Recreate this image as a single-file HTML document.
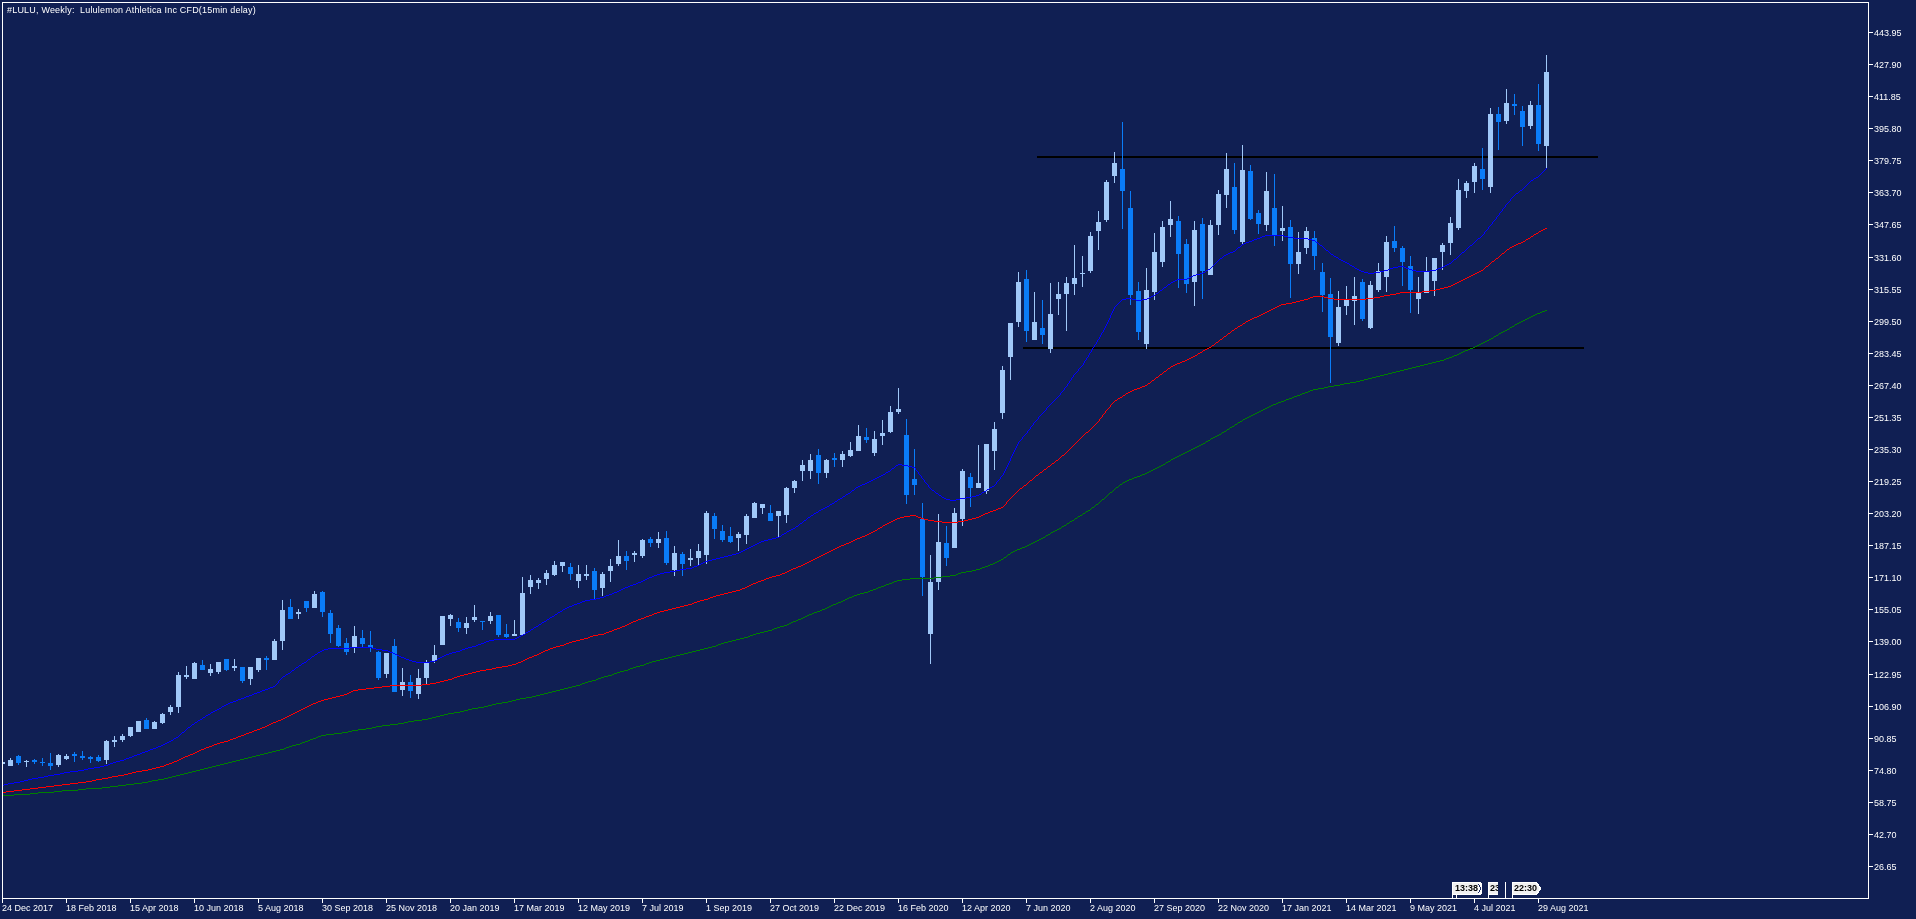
<!DOCTYPE html>
<html><head><meta charset="utf-8"><title>LULU Weekly</title>
<style>html,body{margin:0;padding:0;background:#101f53;width:1916px;height:919px;overflow:hidden}</style>
</head><body>
<svg width="1916" height="919" viewBox="0 0 1916 919" style="position:absolute;left:0;top:0;will-change:transform"><defs><clipPath id="c"><rect x="3" y="3" width="1865" height="895"/></clipPath></defs><g clip-path="url(#c)" shape-rendering="crispEdges"><rect x="1037" y="156" width="561" height="2" fill="#000"/><rect x="1023" y="347" width="561" height="2" fill="#000"/><path fill="#a0c8f8" d="M2 762h1v2h-1zM0 762h5v2h-5zM10 758h1v8h-1zM8 760h5v6h-5zM26 760h1v7h-1zM24 761h5v1h-5zM58 754h1v13h-1zM56 755h5v10h-5zM66 754h1v6h-1zM64 756h5v3h-5zM106 740h1v24h-1zM104 741h5v19h-5zM114 736h1v11h-1zM112 740h5v2h-5zM122 734h1v8h-1zM120 736h5v4h-5zM130 727h1v10h-1zM128 727h5v9h-5zM138 721h1v11h-1zM136 721h5v11h-5zM154 721h1v8h-1zM152 722h5v7h-5zM162 713h1v11h-1zM160 714h5v9h-5zM170 705h1v10h-1zM168 707h5v5h-5zM178 672h1v41h-1zM176 675h5v32h-5zM186 666h1v13h-1zM184 675h5v2h-5zM194 662h1v17h-1zM192 663h5v16h-5zM210 664h1v12h-1zM208 669h5v4h-5zM218 662h1v12h-1zM216 662h5v10h-5zM234 659h1v12h-1zM232 666h5v2h-5zM250 667h1v18h-1zM248 667h5v12h-5zM258 658h1v14h-1zM256 658h5v12h-5zM274 639h1v21h-1zM272 641h5v19h-5zM282 600h1v50h-1zM280 610h5v31h-5zM298 609h1v10h-1zM296 612h5v2h-5zM314 591h1v17h-1zM312 594h5v14h-5zM354 626h1v27h-1zM352 636h5v11h-5zM386 653h1v25h-1zM384 653h5v21h-5zM402 668h1v28h-1zM400 682h5v8h-5zM418 669h1v30h-1zM416 678h5v16h-5zM426 660h1v24h-1zM424 663h5v15h-5zM434 645h1v18h-1zM432 655h5v6h-5zM442 616h1v29h-1zM440 616h5v29h-5zM450 614h1v12h-1zM448 615h5v4h-5zM466 617h1v17h-1zM464 623h5v5h-5zM474 605h1v17h-1zM472 617h5v3h-5zM490 612h1v12h-1zM488 616h5v5h-5zM514 620h1v16h-1zM512 634h5v2h-5zM522 577h1v58h-1zM520 593h5v42h-5zM530 575h1v19h-1zM528 580h5v7h-5zM538 578h1v11h-1zM536 580h5v3h-5zM546 570h1v15h-1zM544 573h5v6h-5zM554 561h1v15h-1zM552 565h5v10h-5zM562 562h1v10h-1zM560 562h5v4h-5zM578 565h1v23h-1zM576 574h5v7h-5zM586 565h1v15h-1zM584 574h5v2h-5zM602 572h1v24h-1zM600 574h5v14h-5zM610 559h1v23h-1zM608 566h5v5h-5zM618 540h1v26h-1zM616 556h5v8h-5zM634 551h1v11h-1zM632 553h5v2h-5zM642 539h1v19h-1zM640 540h5v16h-5zM658 532h1v16h-1zM656 539h5v4h-5zM674 546h1v30h-1zM672 553h5v17h-5zM690 549h1v17h-1zM688 558h5v2h-5zM698 544h1v21h-1zM696 551h5v7h-5zM706 511h1v53h-1zM704 513h5v42h-5zM738 532h1v19h-1zM736 534h5v4h-5zM746 514h1v30h-1zM744 516h5v19h-5zM754 502h1v16h-1zM752 503h5v15h-5zM762 504h1v10h-1zM760 504h5v4h-5zM778 511h1v27h-1zM776 511h5v5h-5zM786 487h1v36h-1zM784 488h5v27h-5zM794 480h1v13h-1zM792 481h5v7h-5zM802 460h1v21h-1zM800 465h5v6h-5zM810 454h1v25h-1zM808 460h5v11h-5zM826 459h1v19h-1zM824 460h5v13h-5zM842 451h1v16h-1zM840 454h5v6h-5zM850 442h1v15h-1zM848 450h5v6h-5zM858 425h1v26h-1zM856 436h5v15h-5zM874 431h1v25h-1zM872 439h5v14h-5zM882 420h1v25h-1zM880 433h5v3h-5zM890 406h1v27h-1zM888 412h5v20h-5zM898 388h1v26h-1zM896 409h5v3h-5zM930 555h1v109h-1zM928 582h5v52h-5zM938 514h1v76h-1zM936 542h5v40h-5zM954 508h1v40h-1zM952 513h5v35h-5zM962 469h1v57h-1zM960 471h5v48h-5zM978 445h1v43h-1zM976 483h5v5h-5zM986 444h1v50h-1zM984 444h5v47h-5zM994 422h1v48h-1zM992 429h5v22h-5zM1002 366h1v53h-1zM1000 370h5v43h-5zM1010 323h1v57h-1zM1008 323h5v34h-5zM1018 272h1v55h-1zM1016 282h5v40h-5zM1034 292h1v48h-1zM1032 322h5v18h-5zM1050 283h1v70h-1zM1048 314h5v35h-5zM1058 282h1v33h-1zM1056 294h5v5h-5zM1066 277h1v54h-1zM1064 283h5v11h-5zM1074 245h1v50h-1zM1072 278h5v6h-5zM1082 256h1v31h-1zM1080 273h5v1h-5zM1090 232h1v41h-1zM1088 236h5v35h-5zM1098 211h1v39h-1zM1096 222h5v9h-5zM1106 180h1v42h-1zM1104 182h5v38h-5zM1114 152h1v31h-1zM1112 163h5v13h-5zM1146 268h1v81h-1zM1144 290h5v54h-5zM1154 233h1v67h-1zM1152 252h5v40h-5zM1162 221h1v46h-1zM1160 227h5v35h-5zM1170 201h1v36h-1zM1168 219h5v6h-5zM1194 221h1v85h-1zM1192 230h5v52h-5zM1210 220h1v55h-1zM1208 225h5v50h-5zM1218 190h1v45h-1zM1216 194h5v31h-5zM1226 153h1v55h-1zM1224 169h5v26h-5zM1242 145h1v99h-1zM1240 170h5v72h-5zM1266 172h1v59h-1zM1264 191h5v34h-5zM1282 206h1v35h-1zM1280 228h5v3h-5zM1298 232h1v42h-1zM1296 252h5v12h-5zM1306 227h1v27h-1zM1304 231h5v17h-5zM1338 291h1v55h-1zM1336 307h5v36h-5zM1346 286h1v29h-1zM1344 300h5v6h-5zM1354 277h1v48h-1zM1352 296h5v5h-5zM1370 281h1v48h-1zM1368 285h5v43h-5zM1378 263h1v29h-1zM1376 271h5v19h-5zM1386 236h1v56h-1zM1384 242h5v35h-5zM1418 277h1v37h-1zM1416 293h5v6h-5zM1426 257h1v36h-1zM1424 271h5v22h-5zM1434 258h1v38h-1zM1432 258h5v23h-5zM1442 243h1v27h-1zM1440 245h5v7h-5zM1450 217h1v38h-1zM1448 223h5v20h-5zM1458 179h1v51h-1zM1456 190h5v38h-5zM1466 181h1v17h-1zM1464 183h5v8h-5zM1474 163h1v30h-1zM1472 166h5v16h-5zM1490 108h1v85h-1zM1488 114h5v73h-5zM1506 89h1v35h-1zM1504 103h5v18h-5zM1530 101h1v28h-1zM1528 105h5v21h-5zM1546 55h1v114h-1zM1544 72h5v74h-5z"/><path fill="#0a7cf8" d="M18 755h1v10h-1zM16 756h5v7h-5zM34 759h1v5h-1zM32 760h5v2h-5zM42 758h1v8h-1zM40 762h5v1h-5zM50 753h1v17h-1zM48 763h5v3h-5zM74 752h1v10h-1zM72 754h5v2h-5zM82 751h1v9h-1zM80 756h5v2h-5zM90 756h1v7h-1zM88 757h5v2h-5zM98 755h1v7h-1zM96 757h5v4h-5zM146 718h1v11h-1zM144 720h5v9h-5zM202 660h1v10h-1zM200 665h5v5h-5zM226 659h1v12h-1zM224 659h5v11h-5zM242 667h1v16h-1zM240 667h5v14h-5zM266 656h1v14h-1zM264 658h5v2h-5zM290 599h1v20h-1zM288 607h5v12h-5zM306 601h1v11h-1zM304 601h5v7h-5zM322 591h1v26h-1zM320 592h5v20h-5zM330 610h1v33h-1zM328 613h5v21h-5zM338 625h1v22h-1zM336 628h5v18h-5zM346 638h1v17h-1zM344 643h5v9h-5zM362 630h1v17h-1zM360 638h5v6h-5zM370 631h1v21h-1zM368 645h5v3h-5zM378 651h1v29h-1zM376 652h5v26h-5zM394 639h1v53h-1zM392 646h5v46h-5zM410 675h1v23h-1zM408 682h5v9h-5zM458 618h1v14h-1zM456 622h5v6h-5zM482 621h1v9h-1zM480 621h5v1h-5zM498 615h1v22h-1zM496 615h5v20h-5zM506 624h1v14h-1zM504 634h5v3h-5zM570 563h1v17h-1zM568 567h5v7h-5zM594 568h1v31h-1zM592 571h5v19h-5zM626 551h1v19h-1zM624 556h5v5h-5zM650 537h1v10h-1zM648 539h5v4h-5zM666 531h1v34h-1zM664 538h5v25h-5zM682 552h1v24h-1zM680 554h5v10h-5zM714 513h1v26h-1zM712 516h5v13h-5zM722 525h1v17h-1zM720 531h5v9h-5zM730 527h1v16h-1zM728 536h5v6h-5zM770 505h1v16h-1zM768 513h5v8h-5zM818 449h1v35h-1zM816 455h5v18h-5zM834 453h1v14h-1zM832 458h5v2h-5zM866 428h1v15h-1zM864 437h5v3h-5zM906 419h1v85h-1zM904 435h5v60h-5zM914 449h1v46h-1zM912 479h5v6h-5zM922 503h1v93h-1zM920 519h5v58h-5zM946 526h1v40h-1zM944 543h5v15h-5zM970 473h1v34h-1zM968 477h5v11h-5zM1026 270h1v72h-1zM1024 279h5v52h-5zM1042 300h1v44h-1zM1040 328h5v7h-5zM1122 122h1v107h-1zM1120 169h5v22h-5zM1130 191h1v114h-1zM1128 208h5v87h-5zM1138 282h1v58h-1zM1136 291h5v41h-5zM1178 216h1v72h-1zM1176 221h5v33h-5zM1186 239h1v54h-1zM1184 244h5v40h-5zM1202 218h1v81h-1zM1200 224h5v47h-5zM1234 163h1v71h-1zM1232 187h5v43h-5zM1250 165h1v55h-1zM1248 171h5v48h-5zM1258 210h1v24h-1zM1256 213h5v11h-5zM1274 174h1v72h-1zM1272 208h5v27h-5zM1290 220h1v78h-1zM1288 227h5v37h-5zM1314 231h1v39h-1zM1312 238h5v18h-5zM1322 263h1v49h-1zM1320 272h5v23h-5zM1330 278h1v105h-1zM1328 294h5v43h-5zM1362 279h1v42h-1zM1360 282h5v37h-5zM1394 226h1v26h-1zM1392 241h5v7h-5zM1402 246h1v40h-1zM1400 248h5v14h-5zM1410 256h1v57h-1zM1408 266h5v24h-5zM1482 148h1v42h-1zM1480 169h5v10h-5zM1498 107h1v43h-1zM1496 114h5v8h-5zM1514 94h1v21h-1zM1512 104h5v2h-5zM1522 106h1v40h-1zM1520 111h5v16h-5zM1538 84h1v67h-1zM1536 105h5v39h-5z"/><path fill="#008000" d="M704 648h4v1h-4zM1203 443h2v1h-2zM990 564h3v1h-3zM390 724h8v1h-8zM1344 383h6v1h-6zM1310 390h3v1h-3zM1384 374h4v1h-4zM668 657h4v1h-4zM1119 485h1v1h-1zM1278 402h3v1h-3zM598 678h3v1h-3zM289 746h3v1h-3zM760 632h4v1h-4zM382 725h8v1h-8zM1408 368h4v1h-4zM1305 392h3v1h-3zM692 651h4v1h-4zM1499 333h2v1h-2zM1008 554h2v1h-2zM1372 377h4v1h-4zM656 660h4v1h-4zM62 790h16v1h-16zM1396 371h4v1h-4zM1463 351h2v1h-2zM448 713h6v1h-6zM272 751h4v1h-4zM54 791h8v1h-8zM1517 323h2v1h-2zM408 721h6v1h-6zM1360 380h4v1h-4zM1265 408h2v1h-2zM1318 388h6v1h-6zM236 760h4v1h-4zM576 685h4v1h-4zM640 665h4v1h-4zM436 716h4v1h-4zM910 578h24v1h-24zM260 754h4v1h-4zM118 785h8v1h-8zM1046 535h2v1h-2zM1120 484h2v1h-2zM961 572h5v1h-5zM854 595h3v1h-3zM1230 427h2v1h-2zM224 763h4v1h-4zM110 786h8v1h-8zM1501 332h2v1h-2zM564 688h4v1h-4zM30 793h8v1h-8zM318 736h3v1h-3zM1247 417h2v1h-2zM1140 475h2v1h-2zM248 757h4v1h-4zM460 711h4v1h-4zM526 697h6v1h-6zM14 794h16v1h-16zM1134 477h3v1h-3zM724 642h4v1h-4zM942 576h8v1h-8zM1297 395h3v1h-3zM1267 407h2v1h-2zM617 672h3v1h-3zM334 733h8v1h-8zM976 569h4v1h-4zM512 700h4v1h-4zM552 691h4v1h-4zM1537 313h3v1h-3zM472 708h6v1h-6zM440 715h4v1h-4zM126 784h8v1h-8zM1155 468h2v1h-2zM1454 355h3v1h-3zM740 638h4v1h-4zM86 788h16v1h-16zM1173 458h2v1h-2zM540 694h4v1h-4zM1449 357h3v1h-3zM502 702h6v1h-6zM1074 519h1v1h-1zM958 573h3v1h-3zM630 668h3v1h-3zM152 780h6v1h-6zM696 650h4v1h-4zM886 584h3v1h-3zM1197 446h2v1h-2zM822 609h3v1h-3zM1070 521h2v1h-2zM188 772h4v1h-4zM728 641h4v1h-4zM1015 550h2v1h-2zM950 575h6v1h-6zM1470 348h3v1h-3zM1193 448h2v1h-2zM142 782h6v1h-6zM212 766h4v1h-4zM488 705h4v1h-4zM454 712h6v1h-6zM342 732h6v1h-6zM843 600h2v1h-2zM620 671h4v1h-4zM310 739h3v1h-3zM1035 541h2v1h-2zM1215 436h2v1h-2zM176 775h4v1h-4zM1240 421h2v1h-2zM812 613h2v1h-2zM305 741h3v1h-3zM1127 480h2v1h-2zM1211 438h2v1h-2zM372 727h4v1h-4zM200 769h4v1h-4zM1157 467h2v1h-2zM712 646h4v1h-4zM1289 398h3v1h-3zM1105 497h1v1h-1zM1053 531h2v1h-2zM999 560h2v1h-2zM164 778h4v1h-4zM608 675h4v1h-4zM1507 329h2v1h-2zM1420 365h4v1h-4zM1255 413h2v1h-2zM358 729h8v1h-8zM1446 358h3v1h-3zM1440 360h4v1h-4zM1273 404h3v1h-3zM876 588h2v1h-2zM284 748h2v1h-2zM784 625h3v1h-3zM814 612h3v1h-3zM1404 369h4v1h-4zM1364 379h4v1h-4zM1238 422h2v1h-2zM680 654h4v1h-4zM1328 386h6v1h-6zM649 662h3v1h-3zM1491 338h2v1h-2zM1428 363h4v1h-4zM1461 352h2v1h-2zM1185 452h2v1h-2zM1102 499h2v1h-2zM302 742h3v1h-3zM2 795h12v1h-12zM1080 515h2v1h-2zM833 604h3v1h-3zM1392 372h4v1h-4zM772 629h2v1h-2zM1181 454h2v1h-2zM296 744h4v1h-4zM1416 366h4v1h-4zM700 649h4v1h-4zM1149 471h2v1h-2zM1380 375h4v1h-4zM398 723h6v1h-6zM664 658h4v1h-4zM1276 403h2v1h-2zM286 747h3v1h-3zM1145 473h2v1h-2zM1340 384h4v1h-4zM1308 391h2v1h-2zM1064 525h2v1h-2zM1110 492h2v1h-2zM756 633h4v1h-4zM1368 378h4v1h-4zM588 681h4v1h-4zM1334 385h6v1h-6zM652 661h4v1h-4zM1006 556h1v1h-1zM582 683h3v1h-3zM444 714h4v1h-4zM1029 544h2v1h-2zM934 577h8v1h-8zM1483 342h2v1h-2zM801 618h2v1h-2zM1025 546h2v1h-2zM852 596h2v1h-2zM572 686h4v1h-4zM1043 537h2v1h-2zM732 640h4v1h-4zM1118 486h1v1h-1zM422 719h6v1h-6zM560 689h4v1h-4zM721 643h3v1h-3zM1137 476h3v1h-3zM414 720h8v1h-8zM1086 511h2v1h-2zM1263 409h2v1h-2zM548 692h4v1h-4zM966 571h6v1h-6zM326 734h8v1h-8zM508 701h4v1h-4zM736 639h4v1h-4zM78 789h8v1h-8zM536 695h4v1h-4zM38 792h16v1h-16zM1229 428h1v1h-1zM1175 457h2v1h-2zM520 698h6v1h-6zM838 602h3v1h-3zM134 783h8v1h-8zM1031 543h2v1h-2zM809 614h3v1h-3zM1123 482h2v1h-2zM366 728h6v1h-6zM1509 328h1v1h-1zM1527 318h2v1h-2zM688 652h4v1h-4zM873 589h3v1h-3zM1033 542h2v1h-2zM1104 498h1v1h-1zM676 655h4v1h-4zM831 605h2v1h-2zM768 630h4v1h-4zM1077 517h1v1h-1zM1257 412h2v1h-2zM1201 444h2v1h-2zM988 565h2v1h-2zM1219 434h2v1h-2zM1165 463h1v1h-1zM1061 527h1v1h-1zM1519 322h2v1h-2zM1515 324h2v1h-2zM1183 453h2v1h-2zM1356 381h4v1h-4zM1078 516h2v1h-2zM803 617h2v1h-2zM892 582h2v1h-2zM264 753h4v1h-4zM321 735h5v1h-5zM1045 536h1v1h-1zM316 737h2v1h-2zM1115 488h1v1h-1zM252 756h4v1h-4zM624 670h4v1h-4zM817 611h3v1h-3zM1245 418h2v1h-2zM1294 396h3v1h-3zM902 579h8v1h-8zM240 759h4v1h-4zM748 636h2v1h-2zM972 570h4v1h-4zM1153 469h2v1h-2zM1452 356h2v1h-2zM228 762h4v1h-4zM196 770h4v1h-4zM496 703h6v1h-6zM1116 487h2v1h-2zM1017 549h3v1h-3zM464 710h4v1h-4zM628 669h2v1h-2zM1226 430h1v1h-1zM1171 459h2v1h-2zM820 610h2v1h-2zM1013 551h2v1h-2zM1195 447h2v1h-2zM308 740h2v1h-2zM1191 449h2v1h-2zM841 601h2v1h-2zM1055 530h2v1h-2zM1051 532h2v1h-2zM1125 481h2v1h-2zM997 561h2v1h-2zM604 676h4v1h-4zM1424 364h4v1h-4zM1286 399h3v1h-3zM192 771h4v1h-4zM1313 389h5v1h-5zM352 730h6v1h-6zM1281 401h3v1h-3zM292 745h4v1h-4zM1412 367h4v1h-4zM1436 361h4v1h-4zM180 774h4v1h-4zM982 567h3v1h-3zM684 653h4v1h-4zM1489 339h2v1h-2zM780 626h4v1h-4zM1235 424h2v1h-2zM1542 311h3v1h-3zM672 656h4v1h-4zM1101 500h1v1h-1zM857 594h3v1h-3zM468 709h4v1h-4zM1147 472h2v1h-2zM256 755h4v1h-4zM1142 474h3v1h-3zM1166 462h2v1h-2zM1112 491h1v1h-1zM244 758h4v1h-4zM1545 310h2v1h-2zM1062 526h2v1h-2zM1132 478h2v1h-2zM585 682h3v1h-3zM1004 557h2v1h-2zM232 761h4v1h-4zM636 666h4v1h-4zM1350 382h6v1h-6zM1535 314h2v1h-2zM1481 343h2v1h-2zM798 619h3v1h-3zM568 687h4v1h-4zM1477 345h2v1h-2zM1199 445h2v1h-2zM985 566h3v1h-3zM849 597h3v1h-3zM184 773h4v1h-4zM532 696h4v1h-4zM1041 538h2v1h-2zM789 623h2v1h-2zM484 706h4v1h-4zM556 690h4v1h-4zM313 738h3v1h-3zM1088 510h2v1h-2zM1496 335h2v1h-2zM208 767h4v1h-4zM894 581h3v1h-3zM708 647h4v1h-4zM432 717h4v1h-4zM884 585h2v1h-2zM791 622h2v1h-2zM172 776h4v1h-4zM376 726h6v1h-6zM1210 439h1v1h-1zM774 628h3v1h-3zM1510 327h2v1h-2zM158 779h6v1h-6zM1122 483h1v1h-1zM993 563h2v1h-2zM1253 414h2v1h-2zM601 677h3v1h-3zM764 631h4v1h-4zM1094 506h1v1h-1zM660 659h4v1h-4zM148 781h4v1h-4zM1525 319h2v1h-2zM1400 370h4v1h-4zM102 787h8v1h-8zM870 590h3v1h-3zM1237 423h1v1h-1zM1388 373h4v1h-4zM580 684h2v1h-2zM829 606h2v1h-2zM1376 376h4v1h-4zM592 680h4v1h-4zM1221 433h1v1h-1zM753 634h3v1h-3zM1217 435h2v1h-2zM1163 464h2v1h-2zM1109 493h1v1h-1zM516 699h4v1h-4zM1457 354h2v1h-2zM1059 528h2v1h-2zM860 593h4v1h-4zM1022 547h3v1h-3zM744 637h4v1h-4zM1531 316h2v1h-2zM1302 393h3v1h-3zM492 704h4v1h-4zM1243 419h2v1h-2zM1085 512h1v1h-1zM544 693h4v1h-4zM1292 397h2v1h-2zM612 674h2v1h-2zM1533 315h2v1h-2zM1479 344h2v1h-2zM1227 429h2v1h-2zM1069 522h1v1h-1zM787 624h2v1h-2zM614 673h3v1h-3zM1206 441h2v1h-2zM1284 400h2v1h-2zM995 562h2v1h-2zM1503 331h2v1h-2zM881 586h3v1h-3zM1095 505h1v1h-1zM1521 321h2v1h-2zM1269 406h2v1h-2zM777 627h3v1h-3zM1324 387h4v1h-4zM1540 312h2v1h-2zM404 722h4v1h-4zM1234 425h1v1h-1zM1251 415h2v1h-2zM633 667h3v1h-3zM1271 405h2v1h-2zM280 749h4v1h-4zM1213 437h2v1h-2zM204 768h4v1h-4zM646 663h3v1h-3zM478 707h6v1h-6zM1159 466h2v1h-2zM268 752h4v1h-4zM1459 353h2v1h-2zM889 583h3v1h-3zM827 607h2v1h-2zM1020 548h2v1h-2zM847 598h2v1h-2zM1039 539h2v1h-2zM348 731h4v1h-4zM1161 465h2v1h-2zM1108 494h1v1h-1zM1432 362h4v1h-4zM716 645h2v1h-2zM1057 529h2v1h-2zM1082 514h1v1h-1zM300 743h2v1h-2zM1259 411h2v1h-2zM220 764h4v1h-4zM1224 431h2v1h-2zM1011 552h2v1h-2zM718 644h3v1h-3zM1465 350h3v1h-3zM1189 450h2v1h-2zM1083 513h2v1h-2zM1208 440h2v1h-2zM1050 533h1v1h-1zM1067 523h2v1h-2zM1092 507h2v1h-2zM1468 349h2v1h-2zM1487 340h2v1h-2zM750 635h3v1h-3zM1505 330h2v1h-2zM428 718h4v1h-4zM1107 495h1v1h-1zM1232 426h2v1h-2zM1179 455h2v1h-2zM1098 503h1v1h-1zM1529 317h2v1h-2zM1498 334h1v1h-1zM1494 336h2v1h-2zM168 777h4v1h-4zM1512 326h2v1h-2zM878 587h3v1h-3zM1113 490h1v1h-1zM1261 410h2v1h-2zM805 616h2v1h-2zM836 603h2v1h-2zM1205 442h1v1h-1zM1168 461h2v1h-2zM1523 320h2v1h-2zM1187 451h2v1h-2zM868 591h2v1h-2zM807 615h2v1h-2zM1177 456h2v1h-2zM1048 534h2v1h-2zM796 620h2v1h-2zM1249 416h2v1h-2zM1091 508h1v1h-1zM1300 394h2v1h-2zM897 580h5v1h-5zM1075 518h2v1h-2zM1099 502h1v1h-1zM793 621h3v1h-3zM845 599h2v1h-2zM1037 540h2v1h-2zM1242 420h1v1h-1zM1106 496h1v1h-1zM1129 479h3v1h-3zM1001 559h2v1h-2zM1222 432h2v1h-2zM1151 470h2v1h-2zM1170 460h1v1h-1zM1066 524h1v1h-1zM1090 509h1v1h-1zM276 750h4v1h-4zM864 592h4v1h-4zM1485 341h2v1h-2zM644 664h2v1h-2zM980 568h2v1h-2zM825 608h2v1h-2zM1072 520h2v1h-2zM956 574h2v1h-2zM216 765h4v1h-4zM1096 504h2v1h-2zM1473 347h2v1h-2zM1514 325h1v1h-1zM1444 359h2v1h-2zM1475 346h2v1h-2zM1114 489h1v1h-1zM596 679h2v1h-2zM1010 553h1v1h-1zM1027 545h2v1h-2zM1100 501h1v1h-1zM1493 337h1v1h-1zM1003 558h1v1h-1zM1007 555h1v1h-1z"/><path fill="#ff0000" d="M328 698h4v1h-4zM299 710h2v1h-2zM841 545h3v1h-3zM468 673h4v1h-4zM1134 389h3v1h-3zM1164 371h2v1h-2zM910 515h6v1h-6zM981 515h2v1h-2zM206 747h3v1h-3zM1240 325h2v1h-2zM174 761h3v1h-3zM496 667h6v1h-6zM1286 303h6v1h-6zM622 626h3v1h-3zM1182 361h3v1h-3zM1259 315h2v1h-2zM318 701h3v1h-3zM1308 298h2v1h-2zM1328 298h6v1h-6zM1366 298h8v1h-8zM62 784h8v1h-8zM457 676h3v1h-3zM523 660h2v1h-2zM900 517h4v1h-4zM918 517h3v1h-3zM976 517h3v1h-3zM374 687h8v1h-8zM480 670h6v1h-6zM344 694h3v1h-3zM1277 306h2v1h-2zM281 719h2v1h-2zM641 618h3v1h-3zM708 598h2v1h-2zM612 630h2v1h-2zM14 790h8v1h-8zM796 567h2v1h-2zM86 781h6v1h-6zM764 579h2v1h-2zM606 632h3v1h-3zM332 697h4v1h-4zM1536 233h2v1h-2zM512 664h4v1h-4zM1485 267h1v1h-1zM78 782h8v1h-8zM472 672h4v1h-4zM1166 370h1v1h-1zM271 723h2v1h-2zM983 514h2v1h-2zM177 760h2v1h-2zM390 685h32v1h-32zM1313 296h11v1h-11zM1380 296h4v1h-4zM267 725h2v1h-2zM593 635h5v1h-5zM815 558h2v1h-2zM236 737h2v1h-2zM753 583h3v1h-3zM30 788h8v1h-8zM460 675h4v1h-4zM1448 286h3v1h-3zM684 605h4v1h-4zM897 518h3v1h-3zM921 518h3v1h-3zM972 518h4v1h-4zM102 778h6v1h-6zM422 684h8v1h-8zM584 638h4v1h-4zM166 764h3v1h-3zM1065 453h1v1h-1zM1436 289h4v1h-4zM160 766h4v1h-4zM128 773h4v1h-4zM193 753h2v1h-2zM448 679h4v1h-4zM1250 319h2v1h-2zM891 521h2v1h-2zM934 521h8v1h-8zM958 521h6v1h-6zM1538 232h1v1h-1zM1036 475h2v1h-2zM1390 294h6v1h-6zM1015 493h1v1h-1zM1534 234h2v1h-2zM697 601h3v1h-3zM1269 310h2v1h-2zM1384 295h6v1h-6zM572 641h4v1h-4zM112 776h6v1h-6zM436 682h4v1h-4zM269 724h2v1h-2zM629 623h2v1h-2zM534 655h3v1h-3zM1072 446h1v1h-1zM529 657h3v1h-3zM782 573h3v1h-3zM1107 409h1v1h-1zM1044 469h2v1h-2zM351 691h2v1h-2zM1400 292h22v1h-22zM1001 507h2v1h-2zM136 771h6v1h-6zM1231 331h1v1h-1zM289 715h2v1h-2zM1088 431h1v1h-1zM164 765h2v1h-2zM257 729h3v1h-3zM855 539h2v1h-2zM772 576h4v1h-4zM1171 366h2v1h-2zM124 774h4v1h-4zM307 706h2v1h-2zM851 541h2v1h-2zM990 511h3v1h-3zM1079 439h1v1h-1zM214 744h3v1h-3zM46 786h8v1h-8zM185 756h3v1h-3zM366 688h8v1h-8zM1008 500h1v1h-1zM38 787h8v1h-8zM1052 463h2v1h-2zM1191 357h2v1h-2zM785 572h2v1h-2zM1095 424h1v1h-1zM871 532h2v1h-2zM688 604h4v1h-4zM353 690h5v1h-5zM652 614h2v1h-2zM1187 359h2v1h-2zM70 783h8v1h-8zM889 522h2v1h-2zM942 522h16v1h-16zM1024 485h2v1h-2zM1156 377h2v1h-2zM716 595h4v1h-4zM260 728h2v1h-2zM805 563h2v1h-2zM895 519h2v1h-2zM924 519h4v1h-4zM968 519h4v1h-4zM1020 488h2v1h-2zM742 588h3v1h-3zM521 661h2v1h-2zM904 516h6v1h-6zM916 516h2v1h-2zM979 516h2v1h-2zM217 743h3v1h-3zM336 696h4v1h-4zM1060 457h1v1h-1zM1118 398h2v1h-2zM732 591h4v1h-4zM2 792h4v1h-4zM1300 300h4v1h-4zM358 689h8v1h-8zM873 531h2v1h-2zM1218 341h1v1h-1zM1506 250h1v1h-1zM324 699h4v1h-4zM720 594h4v1h-4zM1137 388h3v1h-3zM201 749h3v1h-3zM1525 240h1v1h-1zM1155 378h1v1h-1zM492 668h4v1h-4zM340 695h4v1h-4zM1202 351h1v1h-1zM518 662h3v1h-3zM486 669h6v1h-6zM1279 305h2v1h-2zM638 619h3v1h-3zM1198 353h2v1h-2zM246 733h3v1h-3zM539 653h2v1h-2zM301 709h2v1h-2zM297 711h2v1h-2zM692 603h2v1h-2zM1163 372h1v1h-1zM1310 297h3v1h-3zM1324 297h4v1h-4zM1374 297h6v1h-6zM316 702h2v1h-2zM835 548h2v1h-2zM1128 392h2v1h-2zM831 550h2v1h-2zM1516 244h2v1h-2zM22 789h8v1h-8zM1066 452h1v1h-1zM224 741h4v1h-4zM1081 437h1v1h-1zM793 568h3v1h-3zM508 665h4v1h-4zM1034 477h1v1h-1zM1484 268h1v1h-1zM1304 299h4v1h-4zM1334 299h32v1h-32zM152 768h4v1h-4zM1007 501h1v1h-1zM1267 311h2v1h-2zM657 612h3v1h-3zM430 683h6v1h-6zM96 779h6v1h-6zM228 740h2v1h-2zM1209 347h2v1h-2zM254 730h3v1h-3zM285 717h2v1h-2zM1150 382h1v1h-1zM853 540h2v1h-2zM1168 368h2v1h-2zM1014 494h1v1h-1zM823 554h2v1h-2zM1457 282h2v1h-2zM181 758h2v1h-2zM1111 404h1v1h-1zM1499 256h1v1h-1zM1006 503h1v1h-1zM349 692h2v1h-2zM617 628h3v1h-3zM1086 432h2v1h-2zM649 615h3v1h-3zM801 565h2v1h-2zM553 647h3v1h-3zM1541 230h2v1h-2zM548 649h2v1h-2zM825 553h2v1h-2zM988 512h2v1h-2zM821 555h2v1h-2zM1099 419h1v1h-1zM844 544h2v1h-2zM758 581h3v1h-3zM1115 400h2v1h-2zM1242 324h1v1h-1zM1422 291h8v1h-8zM1051 464h1v1h-1zM839 546h2v1h-2zM1215 343h1v1h-1zM1238 326h2v1h-2zM1110 406h1v1h-1zM1029 481h1v1h-1zM1292 302h4v1h-4zM382 686h8v1h-8zM1444 287h4v1h-4zM54 785h8v1h-8zM1180 362h2v1h-2zM860 537h2v1h-2zM1430 290h6v1h-6zM704 599h4v1h-4zM609 631h3v1h-3zM1275 307h2v1h-2zM1486 266h2v1h-2zM1059 458h1v1h-1zM761 580h3v1h-3zM1117 399h1v1h-1zM444 680h4v1h-4zM1483 269h1v1h-1zM1027 483h1v1h-1zM694 602h3v1h-3zM598 634h6v1h-6zM813 559h2v1h-2zM751 584h2v1h-2zM1160 374h2v1h-2zM862 536h3v1h-3zM195 752h2v1h-2zM313 703h3v1h-3zM1465 278h2v1h-2zM880 527h2v1h-2zM580 639h4v1h-4zM190 754h3v1h-3zM1248 320h2v1h-2zM1224 336h2v1h-2zM569 642h3v1h-3zM1531 236h2v1h-2zM1073 445h1v1h-1zM627 624h2v1h-2zM1162 373h1v1h-1zM780 574h2v1h-2zM1232 330h2v1h-2zM556 646h4v1h-4zM1003 506h1v1h-1zM527 658h2v1h-2zM1492 261h2v1h-2zM998 508h3v1h-3zM769 577h3v1h-3zM305 707h2v1h-2zM672 608h4v1h-4zM736 590h4v1h-4zM1489 264h1v1h-1zM1147 384h1v1h-1zM1170 367h1v1h-1zM212 745h2v1h-2zM849 542h2v1h-2zM1077 441h1v1h-1zM1142 386h3v1h-3zM148 769h4v1h-4zM660 611h4v1h-4zM724 593h4v1h-4zM1189 358h2v1h-2zM1006 502h1v1h-1zM869 533h2v1h-2zM1112 403h1v1h-1zM560 645h4v1h-4zM1093 426h1v1h-1zM1500 255h1v1h-1zM1473 274h2v1h-2zM1022 487h1v1h-1zM1207 348h2v1h-2zM893 520h2v1h-2zM928 520h6v1h-6zM964 520h4v1h-4zM887 523h2v1h-2zM803 564h2v1h-2zM1084 434h1v1h-1zM740 589h2v1h-2zM614 629h3v1h-3zM1013 495h1v1h-1zM278 720h3v1h-3zM1507 249h2v1h-2zM1455 283h2v1h-2zM728 592h4v1h-4zM273 722h3v1h-3zM6 791h8v1h-8zM204 748h2v1h-2zM1526 239h2v1h-2zM1216 342h2v1h-2zM1475 273h2v1h-2zM646 616h3v1h-3zM169 763h3v1h-3zM1152 380h2v1h-2zM1257 316h2v1h-2zM1098 421h1v1h-1zM636 620h2v1h-2zM541 652h2v1h-2zM1056 460h2v1h-2zM238 736h3v1h-3zM537 654h2v1h-2zM295 712h2v1h-2zM1214 344h1v1h-1zM502 666h6v1h-6zM1028 482h1v1h-1zM233 738h3v1h-3zM172 762h2v1h-2zM809 561h2v1h-2zM747 586h2v1h-2zM132 772h4v1h-4zM1067 451h1v1h-1zM1177 363h3v1h-3zM857 538h3v1h-3zM1126 393h2v1h-2zM1467 277h2v1h-2zM1491 262h1v1h-1zM882 526h1v1h-1zM1514 245h2v1h-2zM1035 476h1v1h-1zM1463 279h2v1h-2zM1058 459h1v1h-1zM1245 322h1v1h-1zM878 528h2v1h-2zM1222 338h1v1h-1zM118 775h6v1h-6zM664 610h4v1h-4zM1032 479h1v1h-1zM1481 270h2v1h-2zM1074 444h1v1h-1zM1528 238h2v1h-2zM811 560h2v1h-2zM749 585h2v1h-2zM287 716h2v1h-2zM1123 395h2v1h-2zM1043 470h1v1h-1zM183 757h2v1h-2zM1167 369h1v1h-1zM179 759h2v1h-2zM209 746h3v1h-3zM1296 301h4v1h-4zM1185 360h2v1h-2zM347 693h2v1h-2zM550 648h3v1h-3zM1019 489h1v1h-1zM1543 229h2v1h-2zM1105 412h1v1h-1zM798 566h3v1h-3zM1539 231h2v1h-2zM1100 418h1v1h-1zM1145 385h2v1h-2zM516 663h2v1h-2zM985 513h3v1h-3zM244 734h2v1h-2zM1092 427h1v1h-1zM1235 328h2v1h-2zM837 547h2v1h-2zM1523 241h2v1h-2zM1103 414h1v1h-1zM1154 379h1v1h-1zM1440 288h4v1h-4zM276 721h2v1h-2zM700 600h4v1h-4zM1099 420h1v1h-1zM1197 354h1v1h-1zM440 681h4v1h-4zM791 569h2v1h-2zM1502 253h2v1h-2zM108 777h4v1h-4zM262 727h3v1h-3zM829 551h2v1h-2zM993 510h3v1h-3zM1533 235h1v1h-1zM1246 321h2v1h-2zM1219 340h1v1h-1zM1265 312h2v1h-2zM654 613h3v1h-3zM625 625h2v1h-2zM680 606h4v1h-4zM525 659h2v1h-2zM283 718h2v1h-2zM1125 394h1v1h-1zM1203 350h2v1h-2zM1040 472h2v1h-2zM1490 263h1v1h-1zM827 552h2v1h-2zM1062 455h2v1h-2zM220 742h4v1h-4zM1512 246h2v1h-2zM668 609h4v1h-4zM766 578h3v1h-3zM1078 440h1v1h-1zM303 708h2v1h-2zM846 543h3v1h-3zM1070 448h1v1h-1zM1498 257h1v1h-1zM1085 433h1v1h-1zM1105 411h1v1h-1zM1205 349h2v1h-2zM1042 471h1v1h-1zM885 524h2v1h-2zM1281 304h5v1h-5zM1228 333h2v1h-2zM545 650h3v1h-3zM1082 436h1v1h-1zM819 556h2v1h-2zM1011 497h1v1h-1zM476 671h4v1h-4zM1453 284h2v1h-2zM464 674h4v1h-4zM1050 465h1v1h-1zM1109 407h1v1h-1zM588 637h2v1h-2zM1496 258h2v1h-2zM713 596h3v1h-3zM1518 243h3v1h-3zM197 751h2v1h-2zM454 677h3v1h-3zM1254 317h3v1h-3zM1018 490h1v1h-1zM1104 413h1v1h-1zM1173 365h2v1h-2zM92 780h4v1h-4zM1151 381h1v1h-1zM1273 308h2v1h-2zM633 621h3v1h-3zM241 735h3v1h-3zM787 571h2v1h-2zM1091 428h1v1h-1zM293 713h2v1h-2zM1026 484h1v1h-1zM1212 345h2v1h-2zM1521 242h2v1h-2zM230 739h3v1h-3zM1396 293h4v1h-4zM311 704h2v1h-2zM1223 337h1v1h-1zM156 767h4v1h-4zM1195 355h2v1h-2zM566 643h3v1h-3zM875 530h2v1h-2zM1243 323h2v1h-2zM142 770h6v1h-6zM265 726h2v1h-2zM1479 271h2v1h-2zM996 509h2v1h-2zM1122 396h1v1h-1zM249 732h3v1h-3zM1263 313h2v1h-2zM1039 473h1v1h-1zM644 617h2v1h-2zM1226 335h1v1h-1zM543 651h2v1h-2zM1012 496h1v1h-1zM1132 390h2v1h-2zM1090 429h1v1h-1zM865 535h2v1h-2zM1047 467h1v1h-1zM1004 505h1v1h-1zM590 636h3v1h-3zM1175 364h2v1h-2zM604 633h2v1h-2zM1504 252h1v1h-1zM1097 422h1v1h-1zM1271 309h2v1h-2zM756 582h2v1h-2zM1113 402h1v1h-1zM1048 466h2v1h-2zM1108 408h1v1h-1zM1023 486h1v1h-1zM1461 280h2v1h-2zM1220 339h2v1h-2zM564 644h2v1h-2zM1158 376h1v1h-1zM676 607h4v1h-4zM1064 454h1v1h-1zM1545 228h2v1h-2zM1071 447h1v1h-1zM1068 450h1v1h-1zM1230 332h1v1h-1zM252 731h2v1h-2zM883 525h2v1h-2zM817 557h2v1h-2zM1075 443h1v1h-1zM321 700h3v1h-3zM1451 285h2v1h-2zM199 750h2v1h-2zM1469 276h2v1h-2zM710 597h3v1h-3zM1494 260h1v1h-1zM1252 318h2v1h-2zM1102 415h1v1h-1zM452 678h2v1h-2zM1148 383h2v1h-2zM789 570h2v1h-2zM1505 251h1v1h-1zM631 622h2v1h-2zM532 656h2v1h-2zM1089 430h1v1h-1zM1046 468h1v1h-1zM309 705h2v1h-2zM576 640h4v1h-4zM1101 417h1v1h-1zM877 529h1v1h-1zM1193 356h2v1h-2zM1096 423h1v1h-1zM1054 462h1v1h-1zM1477 272h2v1h-2zM776 575h4v1h-4zM807 562h2v1h-2zM1061 456h1v1h-1zM1510 247h2v1h-2zM188 755h2v1h-2zM1120 397h2v1h-2zM1033 478h1v1h-1zM1530 237h1v1h-1zM1261 314h2v1h-2zM1227 334h1v1h-1zM1200 352h2v1h-2zM1140 387h2v1h-2zM1010 498h1v1h-1zM867 534h2v1h-2zM1005 504h1v1h-1zM1130 391h2v1h-2zM1471 275h2v1h-2zM833 549h2v1h-2zM1017 491h1v1h-1zM1114 401h1v1h-1zM1237 327h1v1h-1zM291 714h2v1h-2zM1106 410h1v1h-1zM1459 281h2v1h-2zM1159 375h1v1h-1zM745 587h2v1h-2zM620 627h2v1h-2zM1030 480h2v1h-2zM1069 449h1v1h-1zM1038 474h1v1h-1zM1488 265h1v1h-1zM1076 442h1v1h-1zM1495 259h1v1h-1zM1083 435h1v1h-1zM1080 438h1v1h-1zM1009 499h1v1h-1zM1211 346h1v1h-1zM1234 329h1v1h-1zM1102 416h1v1h-1zM1016 492h1v1h-1zM1055 461h1v1h-1zM1094 425h1v1h-1zM1501 254h1v1h-1zM1110 405h1v1h-1zM1509 248h1v1h-1z"/><path fill="#0000ff" d="M1541 173h1v1h-1zM544 621h2v1h-2zM64 772h6v1h-6zM1220 258h2v1h-2zM1338 258h1v1h-1zM1456 258h1v1h-1zM24 780h4v1h-4zM100 766h4v1h-4zM315 654h2v1h-2zM395 654h2v1h-2zM446 654h3v1h-3zM1257 238h3v1h-3zM1294 238h14v1h-14zM1478 238h2v1h-2zM654 575h3v1h-3zM782 534h2v1h-2zM625 587h3v1h-3zM288 673h2v1h-2zM806 519h1v1h-1zM265 689h3v1h-3zM590 599h6v1h-6zM156 747h2v1h-2zM1203 272h2v1h-2zM1364 272h4v1h-4zM1374 272h6v1h-6zM48 775h6v1h-6zM1208 269h2v1h-2zM1357 269h2v1h-2zM1388 269h2v1h-2zM1409 269h3v1h-3zM1436 269h2v1h-2zM888 471h2v1h-2zM917 471h1v1h-1zM1004 471h1v1h-1zM1495 219h1v1h-1zM585 600h5v1h-5zM680 569h6v1h-6zM823 508h2v1h-2zM845 495h1v1h-1zM939 495h2v1h-2zM976 495h3v1h-3zM848 493h2v1h-2zM936 493h2v1h-2zM981 493h1v1h-1zM528 631h2v1h-2zM1490 225h1v1h-1zM1111 314h1v1h-1zM113 762h3v1h-3zM670 571h6v1h-6zM764 540h4v1h-4zM489 640h5v1h-5zM1242 244h2v1h-2zM1319 244h1v1h-1zM1472 244h1v1h-1zM70 771h8v1h-8zM304 662h2v1h-2zM416 662h14v1h-14zM1215 263h1v1h-1zM1347 263h2v1h-2zM1449 263h2v1h-2zM1501 211h1v1h-1zM569 606h3v1h-3zM350 647h22v1h-22zM468 647h4v1h-4zM1238 247h2v1h-2zM1323 247h1v1h-1zM1468 247h1v1h-1zM478 644h3v1h-3zM88 768h6v1h-6zM308 659h2v1h-2zM406 659h3v1h-3zM437 659h1v1h-1zM314 655h1v1h-1zM397 655h2v1h-2zM444 655h2v1h-2zM856 487h2v1h-2zM929 487h1v1h-1zM990 487h2v1h-2zM206 715h2v1h-2zM894 467h1v1h-1zM912 467h3v1h-3zM1006 467h1v1h-1zM318 652h2v1h-2zM390 652h3v1h-3zM452 652h4v1h-4zM647 578h2v1h-2zM224 705h2v1h-2zM554 615h1v1h-1zM1528 183h1v1h-1zM148 750h2v1h-2zM846 494h2v1h-2zM938 494h1v1h-1zM979 494h2v1h-2zM328 648h22v1h-22zM372 648h4v1h-4zM465 648h3v1h-3zM617 591h2v1h-2zM142 752h3v1h-3zM1110 316h1v1h-1zM298 666h1v1h-1zM1211 267h1v1h-1zM1354 267h1v1h-1zM1393 267h5v1h-5zM1404 267h2v1h-2zM1441 267h2v1h-2zM572 605h2v1h-2zM816 512h2v1h-2zM1078 369h1v1h-1zM842 497h1v1h-1zM942 497h2v1h-2zM966 497h6v1h-6zM276 684h1v1h-1zM1484 233h1v1h-1zM1210 268h1v1h-1zM1355 268h2v1h-2zM1390 268h3v1h-3zM1406 268h3v1h-3zM1438 268h3v1h-3zM1233 251h2v1h-2zM1328 251h1v1h-1zM1464 251h1v1h-1zM724 556h4v1h-4zM1265 235h19v1h-19zM1482 235h1v1h-1zM757 543h2v1h-2zM481 643h3v1h-3zM132 756h2v1h-2zM895 466h1v1h-1zM908 466h4v1h-4zM1007 466h1v1h-1zM858 486h2v1h-2zM928 486h1v1h-1zM992 486h2v1h-2zM1222 257h1v1h-1zM1336 257h2v1h-2zM1457 257h1v1h-1zM1260 237h2v1h-2zM1288 237h6v1h-6zM1480 237h1v1h-1zM1536 177h2v1h-2zM883 474h2v1h-2zM919 474h1v1h-1zM1003 474h1v1h-1zM877 477h2v1h-2zM921 477h1v1h-1zM1000 477h1v1h-1zM619 590h2v1h-2zM1200 273h3v1h-3zM1368 273h6v1h-6zM8 783h6v1h-6zM1050 404h1v1h-1zM873 479h2v1h-2zM923 479h1v1h-1zM999 479h1v1h-1zM614 592h3v1h-3zM1249 241h3v1h-3zM1315 241h1v1h-1zM1475 241h1v1h-1zM1121 300h1v1h-1zM1136 300h6v1h-6zM44 776h4v1h-4zM1244 243h2v1h-2zM1318 243h1v1h-1zM1473 243h1v1h-1zM1082 365h1v1h-1zM703 562h2v1h-2zM192 724h2v1h-2zM1026 433h1v1h-1zM517 637h2v1h-2zM165 743h2v1h-2zM1218 260h1v1h-1zM1341 260h2v1h-2zM1453 260h1v1h-1zM633 584h3v1h-3zM1077 371h1v1h-1zM134 755h3v1h-3zM1042 413h1v1h-1zM604 596h2v1h-2zM1062 391h1v1h-1zM1213 265h1v1h-1zM1350 265h2v1h-2zM1445 265h2v1h-2zM1237 248h1v1h-1zM1324 248h1v1h-1zM1467 248h1v1h-1zM213 711h2v1h-2zM1217 261h1v1h-1zM1343 261h2v1h-2zM1452 261h1v1h-1zM1228 253h2v1h-2zM1330 253h1v1h-1zM1461 253h1v1h-1zM1187 278h2v1h-2zM1037 419h1v1h-1zM54 774h6v1h-6zM892 468h2v1h-2zM915 468h1v1h-1zM1006 468h1v1h-1zM1173 281h2v1h-2zM1018 442h1v1h-1zM494 639h21v1h-21zM1534 178h2v1h-2zM1205 271h1v1h-1zM1361 271h3v1h-3zM1380 271h4v1h-4zM1416 271h14v1h-14zM560 611h2v1h-2zM124 759h2v1h-2zM1034 422h1v1h-1zM1054 400h1v1h-1zM322 650h2v1h-2zM382 650h6v1h-6zM460 650h2v1h-2zM881 475h2v1h-2zM920 475h1v1h-1zM1002 475h1v1h-1zM281 678h1v1h-1zM799 524h1v1h-1zM580 602h2v1h-2zM1212 266h1v1h-1zM1352 266h2v1h-2zM1398 266h6v1h-6zM1443 266h2v1h-2zM1065 387h1v1h-1zM869 481h2v1h-2zM924 481h1v1h-1zM997 481h1v1h-1zM636 583h2v1h-2zM38 777h6v1h-6zM108 764h2v1h-2zM840 498h2v1h-2zM944 498h2v1h-2zM960 498h6v1h-6zM215 710h2v1h-2zM865 483h2v1h-2zM926 483h1v1h-1zM996 483h1v1h-1zM1230 252h3v1h-3zM1329 252h1v1h-1zM1462 252h2v1h-2zM1542 172h1v1h-1zM1159 291h1v1h-1zM60 773h4v1h-4zM1241 245h1v1h-1zM1320 245h2v1h-2zM1470 245h2v1h-2zM1226 254h2v1h-2zM1331 254h2v1h-2zM1460 254h1v1h-1zM1252 240h2v1h-2zM1312 240h3v1h-3zM1476 240h1v1h-1zM657 574h3v1h-3zM312 656h2v1h-2zM399 656h2v1h-2zM442 656h2v1h-2zM233 701h3v1h-3zM779 536h2v1h-2zM153 748h3v1h-3zM320 651h2v1h-2zM388 651h2v1h-2zM456 651h4v1h-4zM621 589h2v1h-2zM879 476h2v1h-2zM921 476h1v1h-1zM1001 476h1v1h-1zM1511 198h1v1h-1zM676 570h4v1h-4zM852 490h2v1h-2zM932 490h2v1h-2zM986 490h1v1h-1zM1506 204h1v1h-1zM525 633h1v1h-1zM867 482h2v1h-2zM925 482h1v1h-1zM996 482h1v1h-1zM173 739h1v1h-1zM296 667h2v1h-2zM1216 262h1v1h-1zM1345 262h2v1h-2zM1451 262h1v1h-1zM1483 234h1v1h-1zM1235 250h1v1h-1zM1326 250h2v1h-2zM1465 250h1v1h-1zM94 767h6v1h-6zM268 688h2v1h-2zM886 472h2v1h-2zM918 472h1v1h-1zM1004 472h1v1h-1zM1092 348h1v1h-1zM804 520h2v1h-2zM1494 220h1v1h-1zM1088 355h1v1h-1zM257 692h3v1h-3zM739 552h2v1h-2zM1223 256h1v1h-1zM1334 256h2v1h-2zM1458 256h1v1h-1zM768 539h4v1h-4zM1489 226h1v1h-1zM550 617h2v1h-2zM252 694h2v1h-2zM222 706h2v1h-2zM1164 287h2v1h-2zM1196 274h4v1h-4zM1122 299h4v1h-4zM1132 299h4v1h-4zM1142 299h5v1h-5zM789 530h2v1h-2zM1214 264h1v1h-1zM1349 264h1v1h-1zM1447 264h2v1h-2zM295 668h1v1h-1zM813 514h1v1h-1zM1107 323h1v1h-1zM728 555h4v1h-4zM830 504h2v1h-2zM534 627h2v1h-2zM838 499h2v1h-2zM946 499h4v1h-4zM956 499h4v1h-4zM855 488h1v1h-1zM930 488h1v1h-1zM989 488h1v1h-1zM1036 420h1v1h-1zM1149 297h2v1h-2zM716 558h4v1h-4zM283 676h2v1h-2zM1533 179h1v1h-1zM179 735h1v1h-1zM896 465h2v1h-2zM902 465h6v1h-6zM1007 465h1v1h-1zM1031 426h1v1h-1zM307 660h1v1h-1zM409 660h3v1h-3zM435 660h2v1h-2zM1067 384h1v1h-1zM1246 242h3v1h-3zM1316 242h2v1h-2zM1474 242h1v1h-1zM814 513h2v1h-2zM1083 364h1v1h-1zM275 685h1v1h-1zM244 697h2v1h-2zM190 726h1v1h-1zM519 636h2v1h-2zM1254 239h3v1h-3zM1308 239h4v1h-4zM1477 239h1v1h-1zM1106 325h1v1h-1zM1206 270h2v1h-2zM1359 270h2v1h-2zM1384 270h4v1h-4zM1412 270h4v1h-4zM1430 270h6v1h-6zM854 489h1v1h-1zM931 489h1v1h-1zM987 489h2v1h-2zM1175 280h2v1h-2zM120 760h4v1h-4zM1102 332h1v1h-1zM1015 449h1v1h-1zM1030 428h1v1h-1zM705 561h3v1h-3zM819 510h2v1h-2zM796 526h2v1h-2zM1240 246h1v1h-1zM1322 246h1v1h-1zM1469 246h1v1h-1zM1046 408h1v1h-1zM1066 386h1v1h-1zM32 778h6v1h-6zM606 595h3v1h-3zM577 603h3v1h-3zM664 572h6v1h-6zM1126 298h6v1h-6zM1147 298h2v1h-2zM600 597h4v1h-4zM692 567h2v1h-2zM1156 293h2v1h-2zM262 690h3v1h-3zM290 672h1v1h-1zM84 769h4v1h-4zM1101 334h1v1h-1zM195 722h2v1h-2zM1262 236h3v1h-3zM1284 236h4v1h-4zM1481 236h1v1h-1zM898 464h4v1h-4zM1008 464h1v1h-1zM1014 451h1v1h-1zM110 763h3v1h-3zM486 641h3v1h-3zM1097 341h1v1h-1zM862 484h3v1h-3zM927 484h1v1h-1zM995 484h1v1h-1zM1010 458h1v1h-1zM567 607h2v1h-2zM694 566h3v1h-3zM1158 292h1v1h-1zM1499 213h1v1h-1zM1519 191h1v1h-1zM476 645h2v1h-2zM1120 301h1v1h-1zM802 522h1v1h-1zM708 560h4v1h-4zM645 579h2v1h-2zM552 616h2v1h-2zM609 594h3v1h-3zM1013 453h1v1h-1zM171 740h2v1h-2zM4 784h4v1h-4zM736 553h3v1h-3zM1166 286h1v1h-1zM1487 229h1v1h-1zM759 542h2v1h-2zM1096 343h1v1h-1zM755 544h2v1h-2zM1224 255h2v1h-2zM1333 255h1v1h-1zM1459 255h1v1h-1zM810 516h1v1h-1zM129 757h3v1h-3zM832 503h2v1h-2zM1177 279h10v1h-10zM536 626h2v1h-2zM712 559h4v1h-4zM254 693h3v1h-3zM875 478h2v1h-2zM922 478h1v1h-1zM1000 478h1v1h-1zM1048 406h1v1h-1zM1110 317h1v1h-1zM1083 363h1v1h-1zM871 480h2v1h-2zM924 480h1v1h-1zM998 480h1v1h-1zM701 563h2v1h-2zM1525 186h1v1h-1zM163 744h2v1h-2zM811 515h2v1h-2zM270 687h3v1h-3zM187 728h1v1h-1zM515 638h2v1h-2zM1040 415h1v1h-1zM1060 393h1v1h-1zM562 610h1v1h-1zM1035 421h1v1h-1zM1055 399h1v1h-1zM317 653h1v1h-1zM393 653h2v1h-2zM449 653h3v1h-3zM20 781h4v1h-4zM558 612h2v1h-2zM747 548h2v1h-2zM1531 180h2v1h-2zM1071 379h1v1h-1zM1171 282h2v1h-2zM885 473h1v1h-1zM918 473h1v1h-1zM1003 473h1v1h-1zM743 550h2v1h-2zM306 661h1v1h-1zM412 661h4v1h-4zM430 661h5v1h-5zM279 680h1v1h-1zM273 686h2v1h-2zM241 698h3v1h-3zM542 622h2v1h-2zM1236 249h1v1h-1zM1325 249h1v1h-1zM1466 249h1v1h-1zM1540 174h1v1h-1zM1018 443h1v1h-1zM1512 197h1v1h-1zM230 702h3v1h-3zM776 537h3v1h-3zM1101 333h1v1h-1zM1014 450h1v1h-1zM150 749h3v1h-3zM1114 308h1v1h-1zM174 738h2v1h-2zM795 527h1v1h-1zM197 721h1v1h-1zM1097 340h1v1h-1zM526 632h2v1h-2zM860 485h2v1h-2zM928 485h1v1h-1zM994 485h1v1h-1zM1093 347h1v1h-1zM1219 259h1v1h-1zM1339 259h2v1h-2zM1454 259h2v1h-2zM1500 212h1v1h-1zM686 568h6v1h-6zM1155 294h1v1h-1zM720 557h4v1h-4zM1516 193h2v1h-2zM565 608h2v1h-2zM803 521h1v1h-1zM1013 452h1v1h-1zM1113 310h1v1h-1zM249 695h3v1h-3zM1193 275h3v1h-3zM1096 342h1v1h-1zM219 708h2v1h-2zM549 618h1v1h-1zM1503 208h1v1h-1zM1488 228h1v1h-1zM1163 288h1v1h-1zM1010 460h1v1h-1zM787 531h2v1h-2zM1518 192h1v1h-1zM1092 349h1v1h-1zM472 646h4v1h-4zM837 500h1v1h-1zM950 500h6v1h-6zM180 734h1v1h-1zM829 505h1v1h-1zM203 717h2v1h-2zM1088 356h1v1h-1zM533 628h1v1h-1zM612 593h2v1h-2zM643 580h2v1h-2zM890 470h1v1h-1zM916 470h1v1h-1zM1005 470h1v1h-1zM697 565h2v1h-2zM28 779h4v1h-4zM808 517h2v1h-2zM1076 372h1v1h-1zM1041 414h1v1h-1zM1091 351h1v1h-1zM1071 378h1v1h-1zM14 782h6v1h-6zM851 491h1v1h-1zM934 491h1v1h-1zM984 491h2v1h-2zM1529 182h1v1h-1zM1168 284h2v1h-2zM116 761h4v1h-4zM1047 407h1v1h-1zM1067 385h1v1h-1zM302 663h2v1h-2zM793 528h2v1h-2zM1023 436h1v1h-1zM1039 416h1v1h-1zM539 624h2v1h-2zM210 713h1v1h-1zM745 549h2v1h-2zM649 577h3v1h-3zM1114 307h1v1h-1zM1070 380h1v1h-1zM260 691h2v1h-2zM1051 403h1v1h-1zM78 770h6v1h-6zM1046 409h1v1h-1zM194 723h1v1h-1zM1027 432h1v1h-1zM1505 205h1v1h-1zM523 634h2v1h-2zM1539 175h1v1h-1zM1058 396h1v1h-1zM652 576h2v1h-2zM1118 303h1v1h-1zM1113 309h1v1h-1zM1493 221h1v1h-1zM324 649h4v1h-4zM376 649h6v1h-6zM462 649h3v1h-3zM843 496h2v1h-2zM941 496h1v1h-1zM972 496h4v1h-4zM1488 227h1v1h-1zM1546 168h1v1h-1zM1010 459h1v1h-1zM137 754h3v1h-3zM1499 214h1v1h-1zM784 533h2v1h-2zM1515 194h1v1h-1zM753 545h2v1h-2zM181 733h1v1h-1zM825 507h2v1h-2zM582 601h3v1h-3zM530 630h1v1h-1zM1526 185h1v1h-1zM1162 289h1v1h-1zM188 727h2v1h-2zM891 469h1v1h-1zM915 469h1v1h-1zM1005 469h1v1h-1zM1523 188h1v1h-1zM660 573h4v1h-4zM1009 461h1v1h-1zM699 564h2v1h-2zM786 532h1v1h-1zM1109 319h1v1h-1zM1091 350h1v1h-1zM161 745h2v1h-2zM827 506h2v1h-2zM1105 326h1v1h-1zM1087 357h1v1h-1zM531 629h2v1h-2zM555 614h2v1h-2zM280 679h1v1h-1zM1530 181h1v1h-1zM1170 283h1v1h-1zM1029 429h1v1h-1zM299 665h2v1h-2zM574 604h3v1h-3zM818 511h1v1h-1zM1080 367h1v1h-1zM1024 435h1v1h-1zM630 585h3v1h-3zM1060 394h1v1h-1zM1008 463h1v1h-1zM1075 373h1v1h-1zM228 703h2v1h-2zM311 657h1v1h-1zM401 657h3v1h-3zM440 657h2v1h-2zM1032 425h1v1h-1zM772 538h4v1h-4zM850 492h1v1h-1zM935 492h1v1h-1zM982 492h2v1h-2zM1027 431h1v1h-1zM484 642h2v1h-2zM761 541h3v1h-3zM1545 169h1v1h-1zM191 725h1v1h-1zM623 588h2v1h-2zM286 674h2v1h-2zM310 658h1v1h-1zM404 658h2v1h-2zM438 658h2v1h-2zM800 523h2v1h-2zM221 707h1v1h-1zM1504 207h1v1h-1zM169 741h2v1h-2zM732 554h4v1h-4zM638 582h3v1h-3zM217 709h2v1h-2zM246 696h3v1h-3zM1191 276h2v1h-2zM1117 304h1v1h-1zM200 719h2v1h-2zM1086 358h1v1h-1zM1492 222h1v1h-1zM641 581h2v1h-2zM1109 318h1v1h-1zM292 670h2v1h-2zM238 699h3v1h-3zM1089 353h1v1h-1zM557 613h1v1h-1zM176 737h2v1h-2zM1085 360h1v1h-1zM1522 189h1v1h-1zM1108 320h1v1h-1zM211 712h2v1h-2zM158 746h3v1h-3zM184 731h1v1h-1zM541 623h1v1h-1zM1052 402h1v1h-1zM1017 444h1v1h-1zM1033 424h1v1h-1zM1028 430h1v1h-1zM1044 411h1v1h-1zM1064 389h1v1h-1zM104 765h4v1h-4zM521 635h2v1h-2zM1079 368h1v1h-1zM1059 395h1v1h-1zM1153 295h2v1h-2zM1119 302h1v1h-1zM563 609h2v1h-2zM1056 398h1v1h-1zM1103 330h1v1h-1zM1016 446h1v1h-1zM1510 200h1v1h-1zM140 753h2v1h-2zM1505 206h1v1h-1zM547 619h2v1h-2zM1544 170h1v1h-1zM1508 202h1v1h-1zM202 718h1v1h-1zM198 720h2v1h-2zM1098 339h1v1h-1zM1011 456h1v1h-1zM1524 187h1v1h-1zM1485 231h1v1h-1zM1094 346h1v1h-1zM126 758h3v1h-3zM1496 217h1v1h-1zM301 664h1v1h-1zM1081 366h1v1h-1zM1009 462h1v1h-1zM628 586h2v1h-2zM1022 437h1v1h-1zM834 502h1v1h-1zM208 714h2v1h-2zM185 730h1v1h-1zM1073 375h1v1h-1zM1038 417h1v1h-1zM1105 327h1v1h-1zM538 625h1v1h-1zM1033 423h1v1h-1zM226 704h2v1h-2zM1069 382h1v1h-1zM1084 361h1v1h-1zM1064 388h1v1h-1zM1045 410h1v1h-1zM835 501h2v1h-2zM1021 439h1v1h-1zM1538 176h1v1h-1zM1072 377h1v1h-1zM1104 329h1v1h-1zM1510 199h1v1h-1zM1100 336h1v1h-1zM1063 390h1v1h-1zM167 742h2v1h-2zM751 546h2v1h-2zM1498 215h1v1h-1zM1514 195h1v1h-1zM1115 306h1v1h-1zM1509 201h1v1h-1zM1111 313h1v1h-1zM1099 338h1v1h-1zM2 785h2v1h-2zM1094 345h1v1h-1zM1012 455h1v1h-1zM1160 290h2v1h-2zM294 669h1v1h-1zM596 598h4v1h-4zM236 700h2v1h-2zM1090 352h1v1h-1zM178 736h1v1h-1zM1086 359h1v1h-1zM1492 223h1v1h-1zM1110 315h1v1h-1zM1484 232h1v1h-1zM1089 354h1v1h-1zM205 716h1v1h-1zM1074 374h1v1h-1zM182 732h2v1h-2zM1069 381h1v1h-1zM145 751h3v1h-3zM741 551h2v1h-2zM1527 184h1v1h-1zM278 682h1v1h-1zM791 529h2v1h-2zM1108 321h1v1h-1zM1057 397h1v1h-1zM1104 328h1v1h-1zM1017 445h1v1h-1zM1151 296h2v1h-2zM285 675h1v1h-1zM1068 383h1v1h-1zM1100 335h1v1h-1zM1049 405h1v1h-1zM1189 277h2v1h-2zM1025 434h1v1h-1zM1020 440h1v1h-1zM1103 331h1v1h-1zM1016 447h1v1h-1zM1116 305h1v1h-1zM1491 224h1v1h-1zM1099 337h1v1h-1zM821 509h2v1h-2zM1012 454h1v1h-1zM1112 312h1v1h-1zM1486 230h1v1h-1zM1095 344h1v1h-1zM1502 210h1v1h-1zM291 671h1v1h-1zM781 535h1v1h-1zM749 547h2v1h-2zM1497 216h1v1h-1zM1513 196h1v1h-1zM1011 457h1v1h-1zM1520 190h2v1h-2zM186 729h1v1h-1zM1107 322h1v1h-1zM807 518h1v1h-1zM1496 218h1v1h-1zM1167 285h1v1h-1zM278 681h1v1h-1zM1078 370h1v1h-1zM1043 412h1v1h-1zM1022 438h1v1h-1zM1073 376h1v1h-1zM1106 324h1v1h-1zM1038 418h1v1h-1zM1019 441h1v1h-1zM1084 362h1v1h-1zM282 677h1v1h-1zM1015 448h1v1h-1zM1030 427h1v1h-1zM277 683h1v1h-1zM1061 392h1v1h-1zM546 620h1v1h-1zM1543 171h1v1h-1zM1053 401h1v1h-1zM798 525h1v1h-1zM1112 311h1v1h-1zM1507 203h1v1h-1zM1502 209h1v1h-1z"/></g><g shape-rendering="crispEdges" fill="#fff"><rect x="2" y="2" width="1867" height="1"/><rect x="2" y="2" width="1" height="897"/><rect x="1868" y="2" width="1" height="897"/><rect x="2" y="898" width="1867" height="1"/><rect x="1869" y="32" width="4" height="1"/><rect x="1869" y="64" width="4" height="1"/><rect x="1869" y="96" width="4" height="1"/><rect x="1869" y="128" width="4" height="1"/><rect x="1869" y="160" width="4" height="1"/><rect x="1869" y="192" width="4" height="1"/><rect x="1869" y="224" width="4" height="1"/><rect x="1869" y="257" width="4" height="1"/><rect x="1869" y="289" width="4" height="1"/><rect x="1869" y="321" width="4" height="1"/><rect x="1869" y="353" width="4" height="1"/><rect x="1869" y="385" width="4" height="1"/><rect x="1869" y="417" width="4" height="1"/><rect x="1869" y="449" width="4" height="1"/><rect x="1869" y="481" width="4" height="1"/><rect x="1869" y="513" width="4" height="1"/><rect x="1869" y="545" width="4" height="1"/><rect x="1869" y="577" width="4" height="1"/><rect x="1869" y="609" width="4" height="1"/><rect x="1869" y="641" width="4" height="1"/><rect x="1869" y="674" width="4" height="1"/><rect x="1869" y="706" width="4" height="1"/><rect x="1869" y="738" width="4" height="1"/><rect x="1869" y="770" width="4" height="1"/><rect x="1869" y="802" width="4" height="1"/><rect x="1869" y="834" width="4" height="1"/><rect x="1869" y="866" width="4" height="1"/><rect x="2" y="899" width="1" height="4"/><rect x="66" y="899" width="1" height="4"/><rect x="130" y="899" width="1" height="4"/><rect x="194" y="899" width="1" height="4"/><rect x="258" y="899" width="1" height="4"/><rect x="322" y="899" width="1" height="4"/><rect x="386" y="899" width="1" height="4"/><rect x="450" y="899" width="1" height="4"/><rect x="514" y="899" width="1" height="4"/><rect x="578" y="899" width="1" height="4"/><rect x="642" y="899" width="1" height="4"/><rect x="706" y="899" width="1" height="4"/><rect x="770" y="899" width="1" height="4"/><rect x="834" y="899" width="1" height="4"/><rect x="898" y="899" width="1" height="4"/><rect x="962" y="899" width="1" height="4"/><rect x="1026" y="899" width="1" height="4"/><rect x="1090" y="899" width="1" height="4"/><rect x="1154" y="899" width="1" height="4"/><rect x="1218" y="899" width="1" height="4"/><rect x="1282" y="899" width="1" height="4"/><rect x="1346" y="899" width="1" height="4"/><rect x="1410" y="899" width="1" height="4"/><rect x="1474" y="899" width="1" height="4"/><rect x="1538" y="899" width="1" height="4"/></g><g fill="#fff" font-family="Liberation Sans, sans-serif" font-size="9"><text x="1874" y="35.6" transform="translate(0 35.6) scale(1 1.1) translate(0 -35.6)">443.95</text><text x="1874" y="67.6" transform="translate(0 67.6) scale(1 1.1) translate(0 -67.6)">427.90</text><text x="1874" y="99.6" transform="translate(0 99.6) scale(1 1.1) translate(0 -99.6)">411.85</text><text x="1874" y="131.6" transform="translate(0 131.6) scale(1 1.1) translate(0 -131.6)">395.80</text><text x="1874" y="163.6" transform="translate(0 163.6) scale(1 1.1) translate(0 -163.6)">379.75</text><text x="1874" y="195.6" transform="translate(0 195.6) scale(1 1.1) translate(0 -195.6)">363.70</text><text x="1874" y="227.6" transform="translate(0 227.6) scale(1 1.1) translate(0 -227.6)">347.65</text><text x="1874" y="260.6" transform="translate(0 260.6) scale(1 1.1) translate(0 -260.6)">331.60</text><text x="1874" y="292.6" transform="translate(0 292.6) scale(1 1.1) translate(0 -292.6)">315.55</text><text x="1874" y="324.6" transform="translate(0 324.6) scale(1 1.1) translate(0 -324.6)">299.50</text><text x="1874" y="356.6" transform="translate(0 356.6) scale(1 1.1) translate(0 -356.6)">283.45</text><text x="1874" y="388.6" transform="translate(0 388.6) scale(1 1.1) translate(0 -388.6)">267.40</text><text x="1874" y="420.6" transform="translate(0 420.6) scale(1 1.1) translate(0 -420.6)">251.35</text><text x="1874" y="452.6" transform="translate(0 452.6) scale(1 1.1) translate(0 -452.6)">235.30</text><text x="1874" y="484.6" transform="translate(0 484.6) scale(1 1.1) translate(0 -484.6)">219.25</text><text x="1874" y="516.6" transform="translate(0 516.6) scale(1 1.1) translate(0 -516.6)">203.20</text><text x="1874" y="548.6" transform="translate(0 548.6) scale(1 1.1) translate(0 -548.6)">187.15</text><text x="1874" y="580.6" transform="translate(0 580.6) scale(1 1.1) translate(0 -580.6)">171.10</text><text x="1874" y="612.6" transform="translate(0 612.6) scale(1 1.1) translate(0 -612.6)">155.05</text><text x="1874" y="644.6" transform="translate(0 644.6) scale(1 1.1) translate(0 -644.6)">139.00</text><text x="1874" y="677.6" transform="translate(0 677.6) scale(1 1.1) translate(0 -677.6)">122.95</text><text x="1874" y="709.6" transform="translate(0 709.6) scale(1 1.1) translate(0 -709.6)">106.90</text><text x="1874" y="741.6" transform="translate(0 741.6) scale(1 1.1) translate(0 -741.6)">90.85</text><text x="1874" y="773.6" transform="translate(0 773.6) scale(1 1.1) translate(0 -773.6)">74.80</text><text x="1874" y="805.6" transform="translate(0 805.6) scale(1 1.1) translate(0 -805.6)">58.75</text><text x="1874" y="837.6" transform="translate(0 837.6) scale(1 1.1) translate(0 -837.6)">42.70</text><text x="1874" y="869.6" transform="translate(0 869.6) scale(1 1.1) translate(0 -869.6)">26.65</text><text x="2" y="911" transform="translate(0 911) scale(1 1.1) translate(0 -911)">24 Dec 2017</text><text x="66" y="911" transform="translate(0 911) scale(1 1.1) translate(0 -911)">18 Feb 2018</text><text x="130" y="911" transform="translate(0 911) scale(1 1.1) translate(0 -911)">15 Apr 2018</text><text x="194" y="911" transform="translate(0 911) scale(1 1.1) translate(0 -911)">10 Jun 2018</text><text x="258" y="911" transform="translate(0 911) scale(1 1.1) translate(0 -911)">5 Aug 2018</text><text x="322" y="911" transform="translate(0 911) scale(1 1.1) translate(0 -911)">30 Sep 2018</text><text x="386" y="911" transform="translate(0 911) scale(1 1.1) translate(0 -911)">25 Nov 2018</text><text x="450" y="911" transform="translate(0 911) scale(1 1.1) translate(0 -911)">20 Jan 2019</text><text x="514" y="911" transform="translate(0 911) scale(1 1.1) translate(0 -911)">17 Mar 2019</text><text x="578" y="911" transform="translate(0 911) scale(1 1.1) translate(0 -911)">12 May 2019</text><text x="642" y="911" transform="translate(0 911) scale(1 1.1) translate(0 -911)">7 Jul 2019</text><text x="706" y="911" transform="translate(0 911) scale(1 1.1) translate(0 -911)">1 Sep 2019</text><text x="770" y="911" transform="translate(0 911) scale(1 1.1) translate(0 -911)">27 Oct 2019</text><text x="834" y="911" transform="translate(0 911) scale(1 1.1) translate(0 -911)">22 Dec 2019</text><text x="898" y="911" transform="translate(0 911) scale(1 1.1) translate(0 -911)">16 Feb 2020</text><text x="962" y="911" transform="translate(0 911) scale(1 1.1) translate(0 -911)">12 Apr 2020</text><text x="1026" y="911" transform="translate(0 911) scale(1 1.1) translate(0 -911)">7 Jun 2020</text><text x="1090" y="911" transform="translate(0 911) scale(1 1.1) translate(0 -911)">2 Aug 2020</text><text x="1154" y="911" transform="translate(0 911) scale(1 1.1) translate(0 -911)">27 Sep 2020</text><text x="1218" y="911" transform="translate(0 911) scale(1 1.1) translate(0 -911)">22 Nov 2020</text><text x="1282" y="911" transform="translate(0 911) scale(1 1.1) translate(0 -911)">17 Jan 2021</text><text x="1346" y="911" transform="translate(0 911) scale(1 1.1) translate(0 -911)">14 Mar 2021</text><text x="1410" y="911" transform="translate(0 911) scale(1 1.1) translate(0 -911)">9 May 2021</text><text x="1474" y="911" transform="translate(0 911) scale(1 1.1) translate(0 -911)">4 Jul 2021</text><text x="1538" y="911" transform="translate(0 911) scale(1 1.1) translate(0 -911)">29 Aug 2021</text><text x="7" y="13" transform="translate(0 13) scale(1 1.1) translate(0 -13)" xml:space="preserve" letter-spacing="0.2">#LULU, Weekly:  Lululemon Athletica Inc CFD(15min delay)</text></g><g shape-rendering="crispEdges"><path fill="#fff" d="M1452 882h29v1h1v11h-1v1h-29z"/><rect x="1453" y="883" width="25" height="11" fill="#f0f0f0"/><path fill="#1c2a66" d="M1478 884h1v1h-1zM1479 885h1v2h-1zM1480 887h1v3h-1zM1479 890h1v2h-1zM1478 892h1v1h-1z"/><rect x="1452" y="882" width="1" height="16" fill="#fff"/><rect x="1456" y="895" width="1" height="3" fill="#fff"/><rect x="1488" y="882" width="10" height="13" fill="#fff"/><rect x="1489" y="883" width="9" height="11" fill="#f0f0f0"/><rect x="1488" y="882" width="1" height="16" fill="#fff"/><rect x="1505" y="882" width="1" height="16" fill="#fff"/><path fill="#fff" d="M1512 882h25l4 6v1l-4 6h-25z"/><path fill="#f0f0f0" d="M1513 883h23l3 5v1l-3 5h-23z"/><rect x="1512" y="882" width="1" height="16" fill="#fff"/></g><svg x="1488" y="880" width="10" height="16" viewBox="1488 880 10 16"><text x="1490" y="891.5" fill="#000" font-weight="bold" font-family="Liberation Sans, sans-serif" font-size="9" transform="translate(0 891.5) scale(1 1.1) translate(0 -891.5)">23</text></svg><g fill="#000" font-weight="bold" font-family="Liberation Sans, sans-serif" font-size="9"><text x="1455" y="891.5" transform="translate(0 891.5) scale(1 1.1) translate(0 -891.5)">13:38</text><text x="1514" y="891.5" transform="translate(0 891.5) scale(1 1.1) translate(0 -891.5)">22:30</text></g></svg>
</body></html>
